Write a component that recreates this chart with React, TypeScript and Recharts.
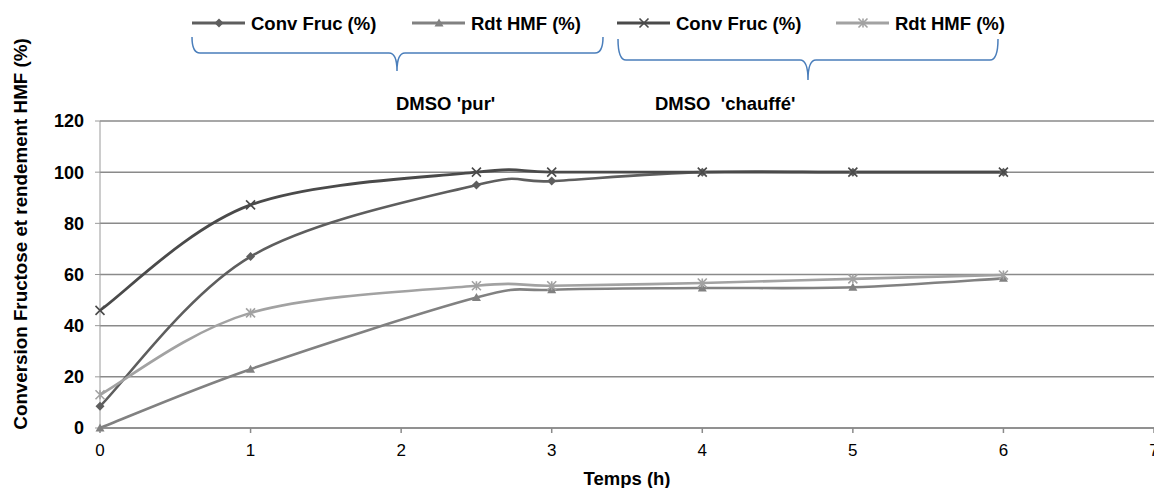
import React from "react"
import {
  LineChart,
  Line,
  XAxis,
  YAxis,
  CartesianGrid,
  Legend,
} from "recharts"

// temps de réaction (h)
const times = [0, 1, 2.5, 3, 4, 5, 6]
// DMSO 'pur'
const convPur = [8.5, 67, 95, 96.5, 100, 100, 100]
const rdtPur = [0, 23, 51, 54, 54.7, 55, 58.5]
// DMSO 'chauffé'
const convChauffe = [46, 87.2, 100, 100, 100, 100, 100]
const rdtChauffe = [13, 45, 55.6, 55.6, 56.7, 58.3, 59.8]

const xTicks = [0, 1, 2, 3, 4, 5, 6, 7]
const yTicks = [0, 20, 40, 60, 80, 100, 120]
const groupLabels = ["DMSO 'pur'", "DMSO  'chauffé'"]
const yTitle = "Conversion Fructose et rendement HMF (%)"

const FONT = "'Liberation Sans', Arial, sans-serif"
const LEGEND_H = 118

type Marker = "diamond" | "triangle" | "cross" | "star"

const series: { key: string; name: string; color: string; marker: Marker; width: number }[] = [
  { key: "convPur", name: "Conv Fruc (%)", color: "#5e5e5e", marker: "diamond", width: 2.6 },
  { key: "rdtPur", name: "Rdt HMF (%)", color: "#818181", marker: "triangle", width: 2.6 },
  { key: "convChauffe", name: "Conv Fruc (%)", color: "#4a4a4a", marker: "cross", width: 2.8 },
  { key: "rdtChauffe", name: "Rdt HMF (%)", color: "#a2a2a2", marker: "star", width: 2.6 },
]

const data = times.map((t, i) => ({
  t,
  convPur: convPur[i],
  rdtPur: rdtPur[i],
  convChauffe: convChauffe[i],
  rdtChauffe: rdtChauffe[i],
}))

/** Excel-like smoothed line (Catmull-Rom as cubic bezier) */
function excelSmooth(context: any) {
  let pts: [number, number][] = []
  return {
    areaStart() {},
    areaEnd() {},
    lineStart() {
      pts = []
    },
    point(x: number, y: number) {
      pts.push([+x, +y])
    },
    lineEnd() {
      if (!pts.length) return
      context.moveTo(pts[0][0], pts[0][1])
      for (let i = 0; i < pts.length - 1; i++) {
        const p0 = pts[Math.max(0, i - 1)]
        const p1 = pts[i]
        const p2 = pts[i + 1]
        const p3 = pts[Math.min(pts.length - 1, i + 2)]
        context.bezierCurveTo(
          p1[0] + (p2[0] - p0[0]) / 6,
          p1[1] + (p2[1] - p0[1]) / 6,
          p2[0] - (p3[0] - p1[0]) / 6,
          p2[1] - (p3[1] - p1[1]) / 6,
          p2[0],
          p2[1]
        )
      }
    },
  }
}

function drawMarker(m: Marker, x: number, y: number, color: string, key?: string) {
  const s = 4.5
  if (m === "diamond")
    return <path key={key} d={`M${x},${y - s}L${x + s},${y}L${x},${y + s}L${x - s},${y}Z`} fill={color} />
  if (m === "triangle")
    return <path key={key} d={`M${x},${y - s}L${x + s},${y + s - 1}L${x - s},${y + s - 1}Z`} fill={color} />
  if (m === "cross")
    return (
      <path
        key={key}
        d={`M${x - s},${y - s}L${x + s},${y + s}M${x - s},${y + s}L${x + s},${y - s}`}
        stroke={color}
        strokeWidth={1.6}
      />
    )
  return (
    <path
      key={key}
      d={`M${x - s},${y - s}L${x + s},${y + s}M${x - s},${y + s}L${x + s},${y - s}M${x},${y - s}L${x},${y + s}`}
      stroke={color}
      strokeWidth={1.6}
    />
  )
}

const makeDot = (m: Marker, color: string) => (p: any) => {
  if (p.cx == null || p.cy == null) return <g key={`e${p.index}`} />
  return drawMarker(m, p.cx, p.cy, color, `${m}-${p.index}`)
}

// legend items + group braces above the plot
const legendX = [192, 412, 617, 836]

function TopLegend() {
  return (
    <svg width={1154} height={LEGEND_H} style={{ display: "block" }}>
      {series.map((s, i) => {
        const x = legendX[i]
        return (
          <g key={s.key}>
            <line x1={x} x2={x + 53} y1={23} y2={23} stroke={s.color} strokeWidth={3} />
            {drawMarker(s.marker, x + 27, 23, s.color)}
            <text x={x + 59} y={30} fontFamily={FONT} fontWeight="bold" fontSize={18.5} fill="#000">
              {s.name}
            </text>
          </g>
        )
      })}
      <path
        d="M192,37 Q192,53 200,53 L389,53 Q397,53 397,71 Q397,53 405,53 L595,53 Q603,53 603,37"
        fill="none"
        stroke="#4a7ebb"
        strokeWidth={1.5}
      />
      <path
        d="M618,39 Q618,60 626,60 L800,60 Q808,60 808,80 Q808,60 816,60 L990,60 Q998,60 998,39"
        fill="none"
        stroke="#4a7ebb"
        strokeWidth={1.5}
      />
      <text x={396} y={110} fontFamily={FONT} fontWeight="bold" fontSize={18.5} fill="#000">
        {groupLabels[0]}
      </text>
      <text x={655} y={110} fontFamily={FONT} fontWeight="bold" fontSize={18.5} fill="#000" style={{ whiteSpace: "pre" }}>
        {groupLabels[1]}
      </text>
    </svg>
  )
}

export default function App() {
  return (
    <div style={{ position: "absolute", left: 0, top: 0, width: 1154, height: 488, background: "#fff" }}>
      <LineChart
        width={1154}
        height={488}
        data={data}
        margin={{ top: 121 - LEGEND_H, right: 0, bottom: 0, left: 0 }}
      >
        <CartesianGrid vertical={false} stroke="#8a8a8a" strokeWidth={1.5} />
        <XAxis
          dataKey="t"
          type="number"
          domain={[0, 7]}
          ticks={xTicks}
          height={60}
          interval={0}
          stroke="#8a8a8a"
          strokeWidth={1.5}
          tickSize={5}
          tickMargin={11}
          tick={{ fontSize: 17, fill: "#000", fontFamily: FONT }}
          label={{
            value: "Temps (h)",
            position: "insideBottom",
            offset: 3,
            fontSize: 18.5,
            fontWeight: "bold",
            fill: "#000",
            fontFamily: FONT,
          }}
        />
        <YAxis
          type="number"
          domain={[0, 120]}
          ticks={yTicks}
          width={100}
          interval={0}
          stroke="#9a9a9a"
          tickSize={5}
          tickMargin={11}
          tick={{ fontSize: 18, fill: "#000", fontWeight: "bold", fontFamily: FONT }}
        />
        <Legend
          verticalAlign="top"
          content={() => <TopLegend />}
          wrapperStyle={{ top: 0, left: 0, width: 1154, height: LEGEND_H }}
        />
        {series.map((s) => (
          <Line
            key={s.key}
            dataKey={s.key}
            name={s.name}
            type={excelSmooth as any}
            stroke={s.color}
            strokeWidth={s.width}
            dot={makeDot(s.marker, s.color)}
            activeDot={false}
            isAnimationActive={false}
          />
        ))}
      </LineChart>
      <svg
        width={40}
        height={488}
        style={{ position: "absolute", left: 0, top: 0, pointerEvents: "none" }}
      >
        <text
          x={20}
          y={234}
          transform="rotate(-90 20 234)"
          textAnchor="middle"
          dominantBaseline="central"
          fontFamily={FONT}
          fontWeight="bold"
          fontSize={18.8}
          fill="#000"
        >
          {yTitle}
        </text>
      </svg>
    </div>
  )
}
